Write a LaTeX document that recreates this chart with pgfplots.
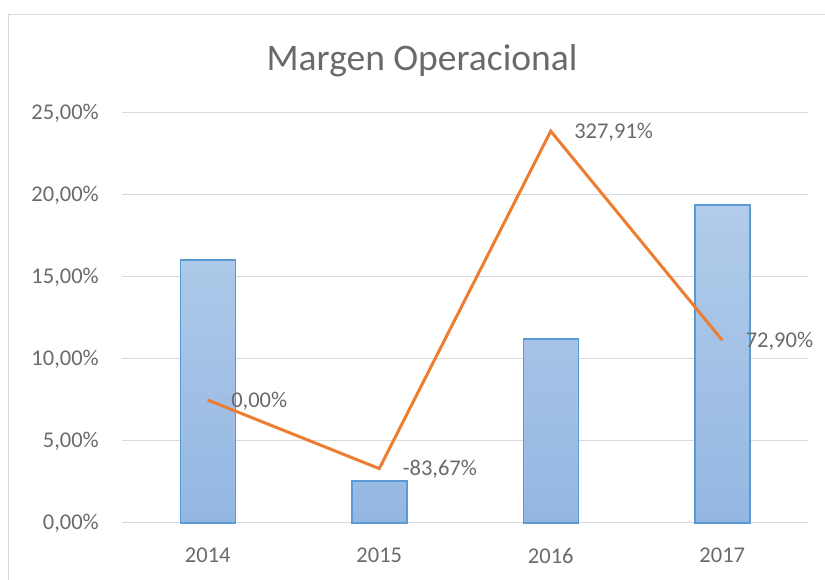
\documentclass[border=0pt]{standalone}
\usepackage{pgfplots}
\pgfplotsset{compat=1.18}
\usepackage{fontspec}
\setmainfont{Carlito}
\definecolor{txt}{HTML}{6A6A6A}
\definecolor{gridc}{HTML}{D9D9D9}
\definecolor{bartop}{HTML}{B2CCEA}
\definecolor{barbot}{HTML}{94B7E2}
\definecolor{barline}{HTML}{5B9BD5}
\definecolor{orng}{HTML}{ED7D31}
\pgfplotstableread{
x y label
0 0 {0,00\%}
1 -83.67 {-83,67\%}
2 327.91 {327,91\%}
3 72.90 {72,90\%}
}\linedata
\begin{document}
\begin{tikzpicture}[x=1pt,y=1pt]
\draw[color=gridc, line width=1pt] (8.5,-5) -- (8.5,565.5) -- (830,565.5);
\begin{axis}[
  at={(122pt,57pt)}, anchor=south west, scale only axis,
  width=686pt, height=410pt,
  xmin=-0.5, xmax=3.5, ymin=0, ymax=25,
  xtick={0,1,2,3}, xticklabels={2014,2015,2016,2017},
  ytick={0,5,10,15,20,25},
  axis line style={draw=none},
  major tick length=0pt,
  ymajorgrids, grid style={color=gridc, line width=1pt},
  /pgf/number format/assume math mode=true,
  tick label style={font=\fontsize{22.5}{26}\selectfont, text=txt, inner sep=0pt},
  yticklabel={\pgfmathprintnumber[fixed,fixed zerofill,precision=2,use comma]{\tick}\%},
  yticklabel shift=23pt,
  xticklabel shift=25pt,
  clip=false,
]
\addplot[ybar, bar width=55pt, draw=barline, line width=1.5pt, top color=bartop, bottom color=barbot]
  coordinates {(0,16.04) (1,2.56) (2,11.22) (3,19.39)};
\end{axis}
\begin{axis}[
  at={(122pt,57pt)}, anchor=south west, scale only axis,
  width=686pt, height=410pt,
  xmin=-0.5, xmax=3.5, ymin=-150, ymax=350,
  hide axis, clip=false,
]
\addplot[color=orng, line width=3pt, no marks,
  nodes near coords, point meta=explicit symbolic,
  nodes near coords style={anchor=west, inner sep=0pt, xshift=22pt, yshift=-1pt,
    font=\fontsize{22.5}{26}\selectfont, text=txt}]
  table[x=x, y=y, meta=label] {\linedata};
\end{axis}
\node[font=\fontsize{37.5}{45}\selectfont, text=txt] at (422,519) {Margen Operacional};
\pgfresetboundingbox
\path[use as bounding box] (0,0) rectangle (825,580);
\end{tikzpicture}
\end{document}
